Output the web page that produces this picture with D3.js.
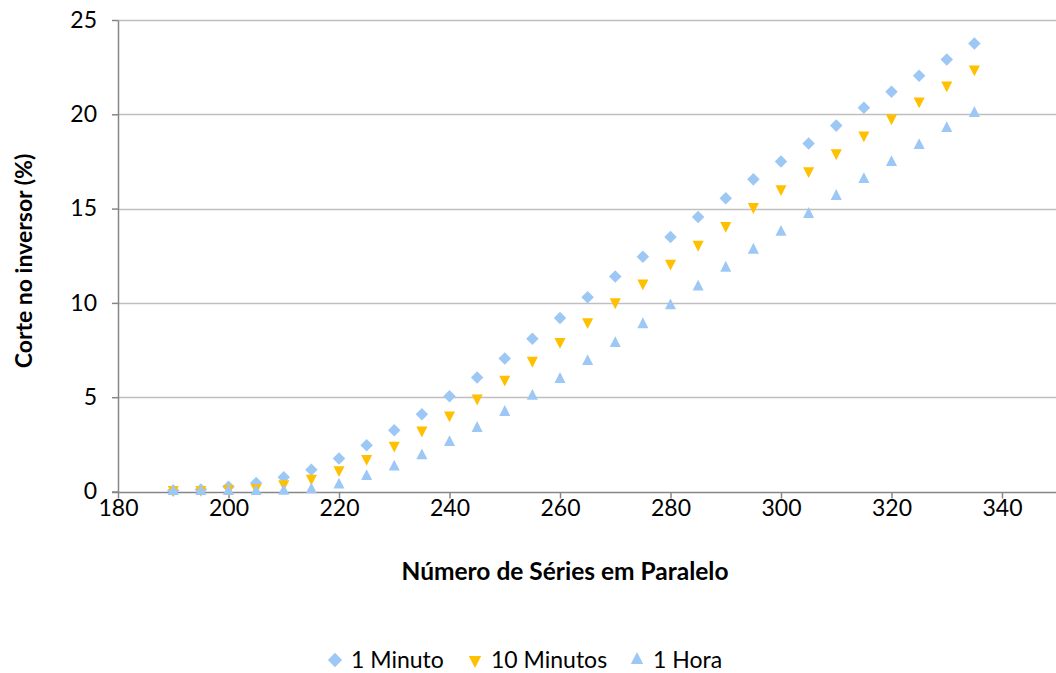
<!DOCTYPE html>
<html>
<head>
<meta charset="utf-8">
<script src="https://cdn.jsdelivr.net/npm/d3@7"></script>
<style>
  body { margin: 0; background: #fff; }
  text { font-family: Lato, "Open Sans", sans-serif; fill: #000; }
</style>
</head>
<body>
<div id="chart"></div>
<script>
const series = ["1 Minuto", "10 Minutos", "1 Hora"]
const xValues = [190, 195, 200, 205, 210, 215, 220, 225, 230, 235, 240, 245, 250, 255, 260, 265, 270, 275, 280, 285, 290, 295, 300, 305, 310, 315, 320, 325, 330, 335]
const minuto1 = [0.05, 0.1, 0.25, 0.45, 0.75, 1.15, 1.75, 2.45, 3.25, 4.1, 5.05, 6.05, 7.05, 8.1, 9.2, 10.3, 11.4, 12.45, 13.5, 14.55, 15.55, 16.55, 17.5, 18.45, 19.4, 20.35, 21.2, 22.05, 22.9, 23.75]
const minutos10 = [0.1, 0.1, 0.15, 0.2, 0.4, 0.7, 1.15, 1.75, 2.45, 3.25, 4.05, 4.95, 5.95, 6.95, 7.95, 9.0, 10.05, 11.05, 12.1, 13.1, 14.1, 15.1, 16.05, 17.0, 17.95, 18.9, 19.8, 20.7, 21.55, 22.4]
const hora1 = [0, 0, 0, 0, 0.02, 0.1, 0.35, 0.8, 1.3, 1.9, 2.6, 3.35, 4.2, 5.05, 5.95, 6.9, 7.85, 8.85, 9.85, 10.85, 11.85, 12.8, 13.75, 14.7, 15.65, 16.55, 17.45, 18.35, 19.25, 20.05]
const xTicks = [180, 200, 220, 240, 260, 280, 300, 320, 340]
const yTicks = [0, 5, 10, 15, 20, 25]

const width = 1056, height = 673
const margin = { top: 20, right: 0, bottom: 181, left: 118 }
const fontSize = 23

const svg = d3.select("#chart").append("svg")
  .attr("width", width)
  .attr("height", height)

const x = d3.scaleLinear()
  .domain([180, 340])
  .range([118, 1002])

const y = d3.scaleLinear()
  .domain([0, 25])
  .range([height - margin.bottom - 0.5, margin.top])

const colors = ["#9DC8F5", "#FFC000", "#9DC8F5"]
const shapes = [
  d3.symbol().type(d3.symbolDiamond2).size(100),
  d3.symbol().type(d3.symbolTriangle2).size(88),
  d3.symbol().type(d3.symbolTriangle2).size(88)
]
// rotation and vertical stretch per series (triangles are about as tall as wide)
const rotate = [0, 180, 0]
const stretch = [1, 1.13, 1.13]

// Gridlines
svg.append("g")
  .selectAll("line")
  .data(yTicks.filter(d => d > 0))
  .join("line")
  .attr("x1", x(180))
  .attr("x2", width)
  .attr("y1", d => Math.round(y(d)) + 0.5)
  .attr("y2", d => Math.round(y(d)) + 0.5)
  .attr("stroke", "#bfbfbf")
  .attr("stroke-width", 1.5)

// Axes
const xAxis = svg.append("g")
  .attr("transform", `translate(0,${Math.round(y(0)) + 0.5})`)
  .call(d3.axisBottom(x).tickValues(xTicks).tickSize(6).tickSizeOuter(0).tickPadding(1))
xAxis.select(".domain").remove()
xAxis.append("line")
  .attr("x1", x(180) - 6).attr("x2", width)
  .attr("stroke", "#868686").attr("stroke-width", 1.5)
xAxis.selectAll(".tick line").attr("stroke", "#868686").attr("stroke-width", 1.5)
xAxis.selectAll(".tick text").attr("font-size", fontSize).style("font-family", "Lato, sans-serif").attr("fill", "#000")

const yAxis = svg.append("g")
  .attr("transform", `translate(${x(180)},0)`)
  .call(d3.axisLeft(y).tickValues(yTicks).tickSize(6).tickSizeOuter(0).tickPadding(15))
yAxis.select(".domain").attr("stroke", "#868686").attr("stroke-width", 1.5)
yAxis.selectAll(".tick line").attr("stroke", "#868686").attr("stroke-width", 1.5)
yAxis.selectAll(".tick text").attr("font-size", fontSize).style("font-family", "Lato, sans-serif").attr("fill", "#000")

// Points
const allSeries = [minuto1, minutos10, hora1]
allSeries.forEach((vals, i) => {
  svg.append("g")
    .selectAll("path")
    .data(vals.map((v, j) => ({ x: xValues[j], v })))
    .join("path")
    .attr("d", shapes[i])
    .attr("transform", d => `translate(${x(d.x)},${y(d.v)}) rotate(${rotate[i]}) scale(1,${stretch[i]})`)
    .attr("fill", colors[i])
})

// Axis titles
svg.append("text")
  .attr("x", 565)
  .attr("y", 580)
  .attr("text-anchor", "middle")
  .attr("font-size", 24.5)
  .attr("font-weight", "bold")
  .text("Número de Séries em Paralelo")

svg.append("text")
  .attr("transform", "translate(32,261) rotate(-90)")
  .attr("text-anchor", "middle")
  .attr("font-size", fontSize)
  .attr("font-weight", "bold")
  .text("Corte no inversor (%)")

// Legend
const legendX = [335, 475, 637]
const legend = svg.append("g")
series.forEach((name, i) => {
  legend.append("path")
    .attr("d", i === 0 ? d3.symbol().type(d3.symbolDiamond2).size(130)() : d3.symbol().type(d3.symbolTriangle2).size(110)())
    .attr("transform", `translate(${legendX[i]},660) rotate(${rotate[i]}) scale(1,${stretch[i]})`)
    .attr("fill", colors[i])
  legend.append("text")
    .attr("x", legendX[i] + 16)
    .attr("y", 668)
    .attr("font-size", fontSize)
    .text(name)
})
</script>
</body>
</html>
